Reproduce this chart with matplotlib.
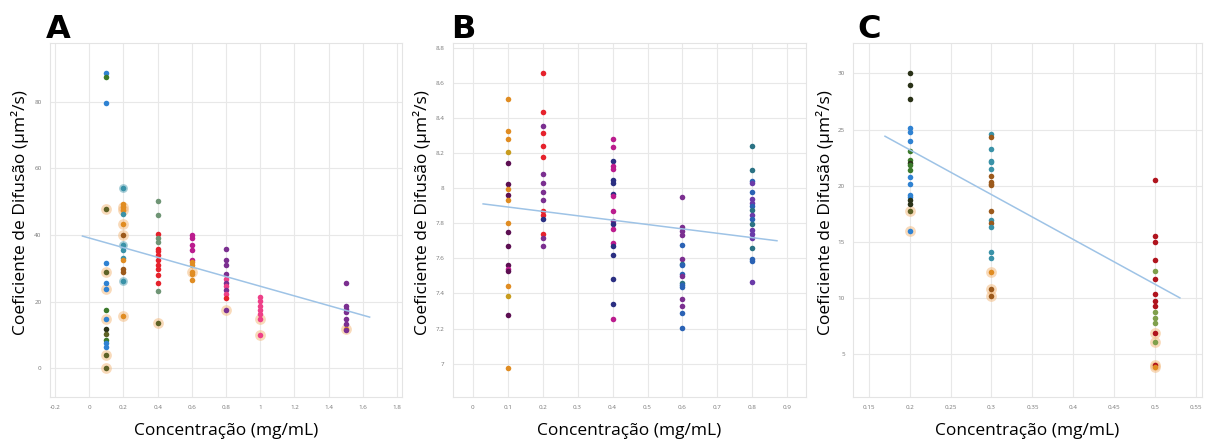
import numpy as np
import matplotlib
matplotlib.use("Agg")
import matplotlib.pyplot as plt

# ---- data ----
# panel A
A_CONC = [0.1, 0.2, 0.4, 0.6, 0.8, 1.0, 1.5]
A_VALUES = [
    [88.7, 87.5, 79.8, 47.7, 31.7, 28.9, 25.6, 23.9, 17.5, 14.8, 11.8, 10.3, 8.5, 7.5, 6.3, 3.8, 0.0],
    [54.0, 49.4, 48.4, 47.4, 46.2, 43.4, 39.9, 36.9, 35.6, 33.1, 32.4, 29.9, 28.9, 26.2, 15.8],
    [50.2, 45.9, 40.4, 39.2, 37.9, 35.9, 35.2, 33.9, 32.4, 30.9, 29.9, 27.9, 25.6, 23.1, 13.6],
    [39.9, 39.2, 36.9, 35.4, 32.6, 31.9, 30.9, 28.9, 28.2, 26.6],
    [35.9, 32.6, 30.9, 28.2, 26.9, 25.6, 24.6, 23.6, 22.4, 21.1, 17.4],
    [21.4, 20.2, 18.8, 17.5, 16.3, 14.8, 9.8],
    [25.7, 18.8, 17.8, 16.8, 14.8, 13.3, 11.8, 11.5],
]
# one code per point, '*' = point drawn with a halo, '+' = larger point
A_GROUPS = [
    ["b", "g", "b", "o*", "b", "o*", "b", "b*", "g", "b*", "D", "o", "g", "b", "b", "o*", "o*"],
    ["t+", "r", "r*", "r*", "t", "r*", "n*", "t+", "t", "t", "r", "n", "n", "t+", "r*"],
    ["G", "G", "R", "G", "G", "R", "R", "R", "R", "R", "R", "R", "R", "G", "o*"],
    ["m", "m", "m", "m", "m", "r", "r", "r*", "r", "r"],
    ["p", "p", "p", "p", "k", "p", "k", "p", "k", "R", "p*"],
    ["k", "k", "k", "k", "k", "k*", "k*"],
    ["p", "p", "p", "p", "p", "p", "r*", "p"],
]
A_FIT = (-14.5, 39.1)       # slope, intercept
A_FIT_RANGE = (-0.04, 1.64)

# panel B
B_CONC = [0.1, 0.2, 0.4, 0.6, 0.8]
B_VALUES = [
    [8.509, 8.325, 8.281, 8.205, 8.146, 8.023, 7.998, 7.960, 7.935, 7.802, 7.751, 7.671,
     7.561, 7.542, 7.528, 7.445, 7.384, 7.279, 6.977],
    [8.657, 8.433, 8.353, 8.317, 8.241, 8.175, 8.083, 8.030, 7.977, 7.935, 7.871, 7.846,
     7.827, 7.741, 7.718, 7.671],
    [8.283, 8.234, 8.156, 8.127, 8.112, 8.045, 8.032, 7.966, 7.954, 7.871, 7.814, 7.794,
     7.770, 7.688, 7.671, 7.618, 7.485, 7.338, 7.257],
    [7.947, 7.779, 7.757, 7.736, 7.679, 7.599, 7.570, 7.561, 7.509, 7.498, 7.460, 7.447,
     7.437, 7.371, 7.327, 7.291, 7.203],
    [8.243, 8.102, 8.040, 8.030, 7.979, 7.941, 7.918, 7.899, 7.874, 7.850, 7.827, 7.794,
     7.760, 7.741, 7.717, 7.661, 7.599, 7.585, 7.466],
]
B_GROUPS = [
    ["r", "r", "r", "y", "d", "d", "r", "d", "r", "r", "d", "d", "d", "m", "d", "r", "y", "d", "r"],
    ["R", "R", "p", "R", "R", "R", "p", "p", "p", "p", "R", "R", "N", "R", "p", "p"],
    ["m", "m", "N", "m", "m", "N", "N", "N", "m", "m", "p", "N", "m", "m", "N", "N", "N", "N", "m"],
    ["p", "p", "p", "p", "B", "p", "T", "B", "B", "p", "T", "B", "B", "p", "p", "B", "B"],
    ["T", "T", "B", "P", "B", "P", "P", "B", "T", "P", "B", "T", "P", "P", "P", "T", "B", "B", "P"],
]
B_FIT = (-0.25, 7.918)
B_FIT_RANGE = (0.03, 0.87)

# panel C
C_CONC = [0.2, 0.3, 0.5]
C_VALUES = [
    [30.06, 28.96, 27.68, 25.16, 24.74, 24.0, 23.11, 22.28, 22.04, 21.83, 21.39, 20.80,
     20.14, 19.16, 18.95, 18.72, 18.33, 17.77, 15.96],
    [24.57, 24.33, 23.23, 22.22, 22.07, 21.45, 20.86, 20.35, 20.14, 20.02, 17.77, 16.94,
     16.70, 16.34, 14.06, 13.52, 12.33, 10.76, 10.20],
    [20.50, 15.51, 14.95, 13.37, 12.39, 11.65, 10.34, 9.72, 9.28, 8.77, 8.24, 7.73,
     6.84, 6.10, 4.02, 3.81],
]
C_GROUPS = [
    ["D", "D", "D", "b", "b", "b", "g", "g", "D", "g", "g", "b", "b", "b", "b", "D", "D", "o*", "b*"],
    ["t", "n", "t", "t", "t", "t", "n", "n", "n", "n", "n", "t", "n", "t", "t", "t", "r*", "n*", "n*"],
    ["M", "M", "M", "M", "L", "M", "M", "M", "M", "L", "L", "L", "M*", "L*", "M*", "r*"],
]
C_FIT = (-40.0, 31.2)
C_FIT_RANGE = (0.17, 0.53)

XLABEL = "Concentração (mg/mL)"
YLABEL = "Coeficiente de Difusão (µm²/s)"

COLORS = {
    "b": "#2f82d2", "g": "#3c7a2c", "o": "#5e6226", "D": "#2a3218", "t": "#3a92a8",
    "r": "#e08c22", "n": "#9c5a1c", "R": "#e6222c", "G": "#6f9575", "m": "#bb1c8e",
    "p": "#7b2f90", "k": "#ee4088", "d": "#5c0f52", "N": "#2b2f82", "y": "#c89c1e",
    "B": "#2a62b4", "T": "#2a7284", "P": "#6a3aa8", "M": "#b0141e", "L": "#7fa04c",
}

plt.rcParams["font.family"] = ["Open Sans", "DejaVu Sans"]


def draw_panel(ax, conc, values, groups, fit, fit_range, xlim, ylim, xticks, yticks):
    for x, ys, gs in zip(conc, values, groups):
        for y, g in zip(ys, gs):
            c = COLORS[g[0]]
            if g.endswith("*"):
                ax.scatter(x, y, s=60, color="#f3b677", alpha=0.5, lw=0, zorder=2)
            elif g.endswith("+"):
                ax.scatter(x, y, s=40, color=c, alpha=0.45, lw=0, zorder=2)
            ax.scatter(x, y, s=16, color=c, lw=0, zorder=3)
    xs = np.array(fit_range)
    ax.plot(xs, fit[0] * xs + fit[1], color="#9ec3e6", lw=1.1, zorder=4)

    ax.set_xlim(*xlim)
    ax.set_ylim(*ylim)
    ax.set_xticks(xticks)
    ax.set_yticks(yticks)
    ax.set_xticklabels([f"{v:g}" for v in xticks])
    ax.set_yticklabels([f"{v:g}" for v in yticks])
    ax.tick_params(length=0, labelsize=4.5, labelcolor="#777777", pad=6)
    ax.grid(True, color="#e8e8e8", lw=0.8)
    ax.set_axisbelow(True)
    for sp in ax.spines.values():
        sp.set_color("#e4e4e4")
        sp.set_linewidth(0.8)
    ax.set_xlabel(XLABEL, fontsize=12.5, va="center")
    ax.set_ylabel(YLABEL, fontsize=12.5, va="center")
    ax.xaxis.set_label_coords(0.5, -0.096)


fig = plt.figure(figsize=(12.1, 4.43), dpi=100)
axA = fig.add_axes([0.0413, 0.1038, 0.291, 0.799])
axB = fig.add_axes([0.3744, 0.1038, 0.2917, 0.799])
axC = fig.add_axes([0.705, 0.1038, 0.2884, 0.799])

draw_panel(axA, A_CONC, A_VALUES, A_GROUPS, A_FIT, A_FIT_RANGE,
           (-0.23, 1.83), (-8.7, 97.7), np.round(np.arange(-0.2, 1.81, 0.2), 1), [0, 20, 40, 60, 80])
draw_panel(axB, B_CONC, B_VALUES, B_GROUPS, B_FIT, B_FIT_RANGE,
           (-0.056, 0.953), (6.81, 8.827), np.round(np.arange(0, 0.91, 0.1), 1),
           np.round(np.arange(7.0, 8.81, 0.2), 1))
draw_panel(axC, C_CONC, C_VALUES, C_GROUPS, C_FIT, C_FIT_RANGE,
           (0.131, 0.557), (1.17, 32.7), np.round(np.arange(0.15, 0.551, 0.05), 2), [5, 10, 15, 20, 25, 30])

axA.yaxis.set_label_coords(-0.085, 0.52)
axB.yaxis.set_label_coords(-0.088, 0.52)
axC.yaxis.set_label_coords(-0.080, 0.52)

for lbl, xpix in [("A", 46), ("B", 451), ("C", 857)]:
    fig.text(xpix / 1210, 1 - 38 / 443, lbl, fontsize=23, fontweight="bold",
             family=["DejaVu Sans"], va="baseline", ha="left")

fig.savefig("out.png", dpi=100)
